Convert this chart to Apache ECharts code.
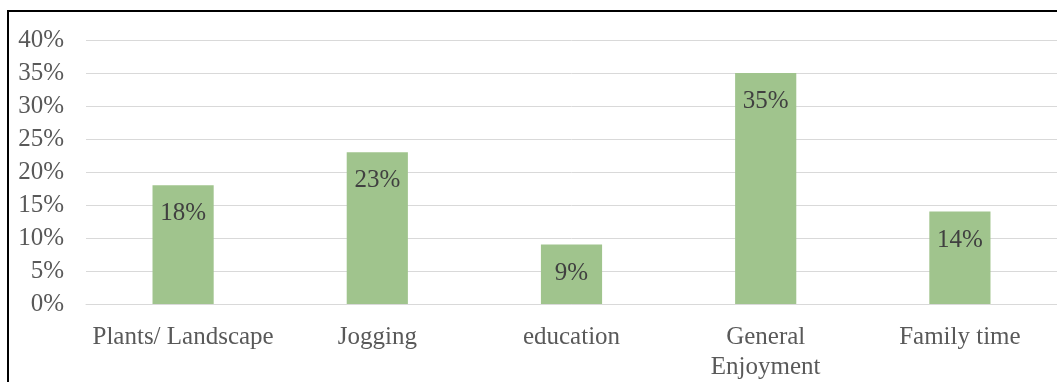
<!DOCTYPE html>
<html>
<head>
<meta charset="utf-8">
<script src="https://cdn.jsdelivr.net/npm/echarts@6/dist/echarts.min.js"></script>
<style>
html,body{margin:0;padding:0;background:#fff;}
#chart{width:1057px;height:382px;}
</style>
</head>
<body>
<div id="chart"></div>
<script>
var categories = ['Plants/ Landscape', 'Jogging', 'education', 'General\nEnjoyment', 'Family time'];
var values = [18, 23, 9, 35, 14];
var yTicks = [0, 5, 10, 15, 20, 25, 30, 35, 40];

var chart = echarts.init(document.getElementById('chart'), null, {renderer: 'canvas'});
var font = '"Liberation Serif", "Times New Roman", serif';
chart.setOption({
  animation: false,
  backgroundColor: '#fff',
  grid: {left: 86, right: 0, top: 40, bottom: 78},
  xAxis: {
    type: 'category',
    data: categories,
    axisLine: {show: true, lineStyle: {color: '#d9d9d9', width: 1}},
    axisTick: {show: false},
    axisLabel: {
      color: '#595959', fontFamily: font, fontSize: 25, margin: 18, lineHeight: 30,
      interval: 0
    }
  },
  yAxis: {
    type: 'value',
    min: yTicks[0], max: yTicks[yTicks.length - 1], interval: 5,
    axisLine: {show: false},
    axisTick: {show: false},
    splitLine: {lineStyle: {color: '#d9d9d9', width: 1}},
    axisLabel: {
      color: '#595959', fontFamily: font, fontSize: 25, margin: 22,
      formatter: function (v) { return v + '%'; }
    }
  },
  series: [{
    type: 'bar',
    data: values,
    barWidth: '31.5%',
    itemStyle: {color: '#a0c48d'},
    label: {
      show: true, position: 'insideTop', distance: 16,
      color: '#404040', fontFamily: font, fontSize: 25,
      formatter: function (p) { return p.value + '%'; }
    }
  }],
  graphic: [
    {type: 'rect', shape: {x: 7, y: 10, width: 1050, height: 2}, style: {fill: '#000'}, z: 100},
    {type: 'rect', shape: {x: 7, y: 10, width: 2, height: 372}, style: {fill: '#000'}, z: 100}
  ]
});
</script>
</body>
</html>
